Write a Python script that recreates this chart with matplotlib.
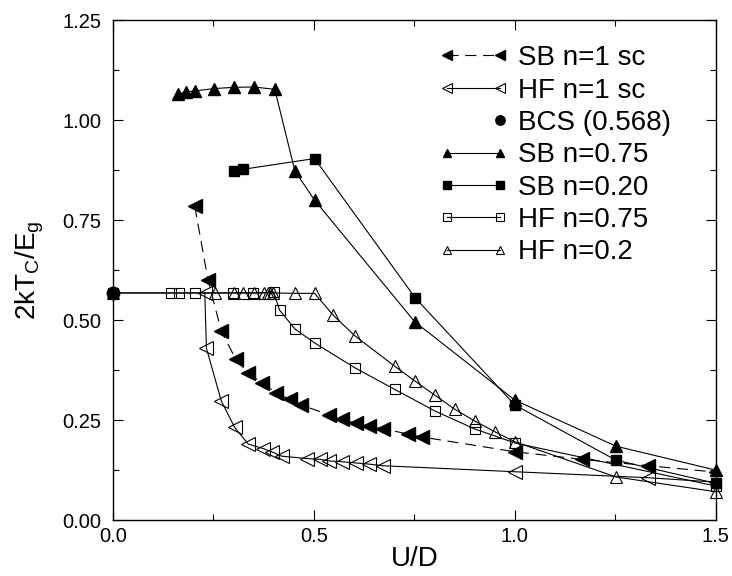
import numpy as np
import matplotlib
matplotlib.use('Agg')
from matplotlib import pyplot as plt
from matplotlib.legend_handler import HandlerLine2D
from matplotlib.ticker import MultipleLocator, FormatStrFormatter

plt.rcParams['font.family'] = ['Liberation Sans', 'DejaVu Sans']
plt.rcParams['mathtext.default'] = 'regular'

# SB n=1 sc (filled left triangles, dashed)
sb1_u = [0.204, 0.237, 0.270, 0.306, 0.337, 0.371, 0.407, 0.440, 0.469,
         0.538, 0.571, 0.604, 0.638, 0.671, 0.735, 0.768, 1.0, 1.166, 1.332, 1.5]
sb1_t = [0.785, 0.600, 0.473, 0.402, 0.368, 0.343, 0.318, 0.302, 0.288,
         0.263, 0.252, 0.242, 0.235, 0.229, 0.215, 0.208, 0.171, 0.152, 0.136, 0.120]

# HF n=1 sc (open left triangles)
hf1_u = [0.229, 0.233, 0.270, 0.303, 0.337, 0.374, 0.395, 0.420, 0.482,
         0.515, 0.538, 0.571, 0.604, 0.638, 0.671, 1.0, 1.332, 1.5]
hf1_t = [0.567, 0.430, 0.298, 0.232, 0.190, 0.179, 0.171, 0.160, 0.154,
         0.152, 0.148, 0.146, 0.143, 0.140, 0.136, 0.121, 0.106, 0.095]

# BCS
bcs_u = [0.0]
bcs_t = [0.568]

# SB n=0.75 (filled up triangles)
sb75_u = [0.162, 0.183, 0.204, 0.252, 0.301, 0.351, 0.403, 0.453, 0.502,
          0.751, 1.0, 1.251, 1.5]
sb75_t = [1.065, 1.071, 1.073, 1.079, 1.082, 1.083, 1.077, 0.873, 0.800,
          0.496, 0.300, 0.185, 0.125]

# SB n=0.20 (filled squares)
sb20_u = [0.302, 0.323, 0.502, 0.752, 1.0, 1.251, 1.5]
sb20_t = [0.873, 0.877, 0.904, 0.556, 0.288, 0.150, 0.092]

# HF n=0.75 (open squares)
hf75_u = [0.0, 0.145, 0.165, 0.205, 0.300, 0.350, 0.400, 0.415, 0.453,
          0.502, 0.602, 0.701, 0.801, 0.900, 1.0, 1.5]
hf75_t = [0.568, 0.568, 0.568, 0.568, 0.568, 0.568, 0.570, 0.525, 0.478,
          0.443, 0.381, 0.327, 0.273, 0.228, 0.193, 0.085]

# HF n=0.2 (open up triangles)
hf20_u = [0.0, 0.254, 0.302, 0.324, 0.351, 0.375, 0.385, 0.392, 0.399,
          0.453, 0.502, 0.548, 0.602, 0.701, 0.751, 0.801, 0.851, 0.900,
          0.950, 1.0, 1.251, 1.5]
hf20_t = [0.568, 0.568, 0.568, 0.568, 0.568, 0.568, 0.568, 0.568, 0.568,
          0.567, 0.567, 0.5125, 0.461, 0.385, 0.348, 0.3125, 0.277, 0.248,
          0.221, 0.196, 0.108, 0.071]


class RightMarker(HandlerLine2D):
    # only one marker, at the right end of the handle
    def create_artists(self, *args, **kwargs):
        arts = super().create_artists(*args, **kwargs)
        for a in arts:
            a.set_markevery([1])
        return arts


fig = plt.figure(figsize=(7.32, 5.76), dpi=100)
ax = fig.add_axes([0.154, 0.097, 0.824, 0.868])

lw = 0.8
ax.plot(sb1_u, sb1_t, color='k', lw=lw, dashes=(10, 6), marker='<', ms=10,
        mfc='k', mec='k', label='SB n=1 sc', zorder=3)
ax.plot(hf1_u, hf1_t, color='k', lw=lw, marker='<', ms=10, mfc='none',
        mec='k', mew=0.8, label='HF n=1 sc', zorder=3)
bcs, = ax.plot(bcs_u, bcs_t, ls='none', marker='o', ms=9, color='k',
               label='BCS (0.568)', zorder=5, clip_on=False)
ax.plot(sb75_u, sb75_t, color='k', lw=lw, marker='^', ms=8, label='SB n=0.75',
        zorder=3, clip_on=False)
ax.plot(sb20_u, sb20_t, color='k', lw=lw, marker='s', ms=7, label='SB n=0.20',
        zorder=3, clip_on=False)
ax.plot(hf75_u, hf75_t, color='k', lw=lw, marker='s', ms=7, mfc='none',
        mew=0.8, label='HF n=0.75', zorder=3, clip_on=False)
ax.plot(hf20_u, hf20_t, color='k', lw=lw, marker='^', ms=8, mfc='none',
        mew=0.8, label='HF n=0.2', zorder=3, clip_on=False)

ax.set_xlim(0, 1.5)
ax.set_ylim(0, 1.25)
ax.xaxis.set_major_locator(MultipleLocator(0.5))
ax.xaxis.set_minor_locator(MultipleLocator(0.25))
ax.yaxis.set_major_locator(MultipleLocator(0.25))
ax.yaxis.set_minor_locator(MultipleLocator(0.125))
ax.xaxis.set_major_formatter(FormatStrFormatter('%.1f'))
ax.yaxis.set_major_formatter(FormatStrFormatter('%.2f'))
ax.tick_params(which='both', direction='in', top=True, right=True,
               labelsize=14.5, width=0.8)
ax.tick_params(which='major', length=7)
ax.tick_params(which='minor', length=4)
ax.tick_params(axis='y', which='major', pad=8)
ax.tick_params(axis='x', which='major', pad=5)
for s in ax.spines.values():
    s.set_linewidth(1.0)

ax.set_xlabel('U/D', fontsize=20, labelpad=0)
ax.set_ylabel('2kT$_C$/E$_g$', fontsize=20, labelpad=12)

ax.legend(loc='upper right', bbox_to_anchor=(0.926, 0.95), borderaxespad=0,
          borderpad=0, frameon=False, fontsize=20, numpoints=2,
          markerscale=0.75, handlelength=2.5, handletextpad=0.36,
          labelspacing=0.23, handler_map={bcs: RightMarker()})

fig.savefig('out.png', dpi=100)
